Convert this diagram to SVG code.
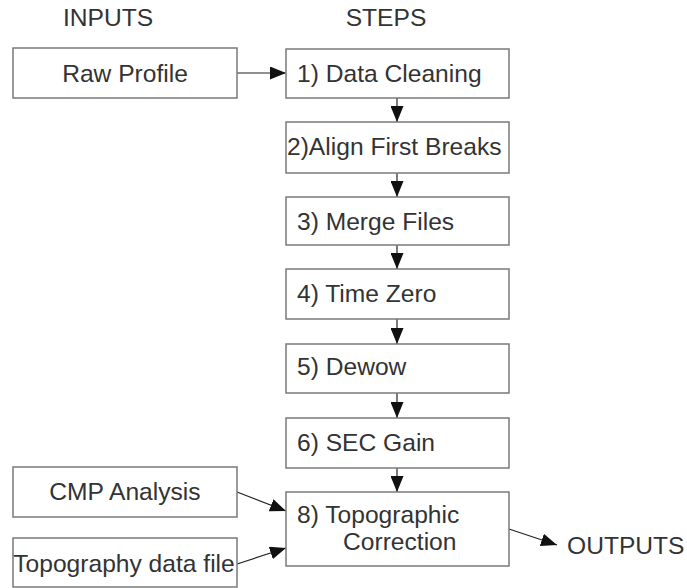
<svg xmlns="http://www.w3.org/2000/svg" width="687" height="588" viewBox="0 0 687 588">
<defs>
<style>
.box{fill:#fff;stroke:#7a7a7a;stroke-width:1.5}
.t{font-family:"Liberation Sans",Arial,sans-serif;font-size:24.6px;fill:#333}
.c{text-anchor:middle}
.edge{stroke:#222;stroke-width:1.2;fill:none;marker-end:url(#ah)}
</style>
<marker id="ah" markerUnits="userSpaceOnUse" markerWidth="17" markerHeight="13" refX="16" refY="6.5" orient="auto">
<path d="M0,0 L16,6.5 L0,13 Z" fill="#111"/>
</marker>
</defs>
<rect width="687" height="588" fill="#fff"/>
<text class="t c" x="108" y="26">INPUTS</text>
<text class="t c" x="386" y="26">STEPS</text>
<g id="connectors">
<line class="edge" x1="237" y1="73" x2="286" y2="73"/>
<line class="edge" x1="397" y1="98" x2="397" y2="122"/>
<line class="edge" x1="397" y1="173" x2="397" y2="197"/>
<line class="edge" x1="397" y1="245" x2="397" y2="269"/>
<line class="edge" x1="397" y1="319" x2="397" y2="344"/>
<line class="edge" x1="397" y1="393" x2="397" y2="418"/>
<line class="edge" x1="397" y1="468" x2="397" y2="492"/>
<line class="edge" x1="237" y1="492" x2="286" y2="511"/>
<line class="edge" x1="234" y1="565" x2="286" y2="548"/>
<line class="edge" x1="509" y1="529" x2="557" y2="545"/>
</g>
<g id="raw"><rect class="box" x="13" y="48" width="224" height="50"/><text class="t c" x="125" y="82">Raw Profile</text></g>
<g id="s1"><rect class="box" x="286" y="49" width="223" height="49"/><text class="t" x="297" y="82">1) Data Cleaning</text></g>
<g id="s2"><rect class="box" x="286" y="122" width="223" height="51"/><text class="t" x="287" y="155">2)Align First Breaks</text></g>
<g id="s3"><rect class="box" x="286" y="197" width="223" height="48"/><text class="t" x="297" y="230">3) Merge Files</text></g>
<g id="s4"><rect class="box" x="286" y="269" width="223" height="50"/><text class="t" x="297" y="302">4) Time Zero</text></g>
<g id="s5"><rect class="box" x="286" y="344" width="223" height="49"/><text class="t" x="297" y="375">5) Dewow</text></g>
<g id="s6"><rect class="box" x="286" y="418" width="223" height="50"/><text class="t" x="297" y="451">6) SEC Gain</text></g>
<g id="s8"><rect class="box" x="286" y="492" width="223" height="74"/><text class="t" x="297" y="523">8) Topographic</text><text class="t" x="343" y="550">Correction</text></g>
<g id="cmp"><rect class="box" x="13" y="467" width="224" height="50"/><text class="t c" x="125" y="500">CMP Analysis</text></g>
<g id="topo"><rect class="box" x="13" y="538" width="224" height="49"/><text class="t c" x="124" y="572">Topography data file</text></g>
<g id="out"><text class="t" x="567" y="554">OUTPUTS</text></g>
</svg>
